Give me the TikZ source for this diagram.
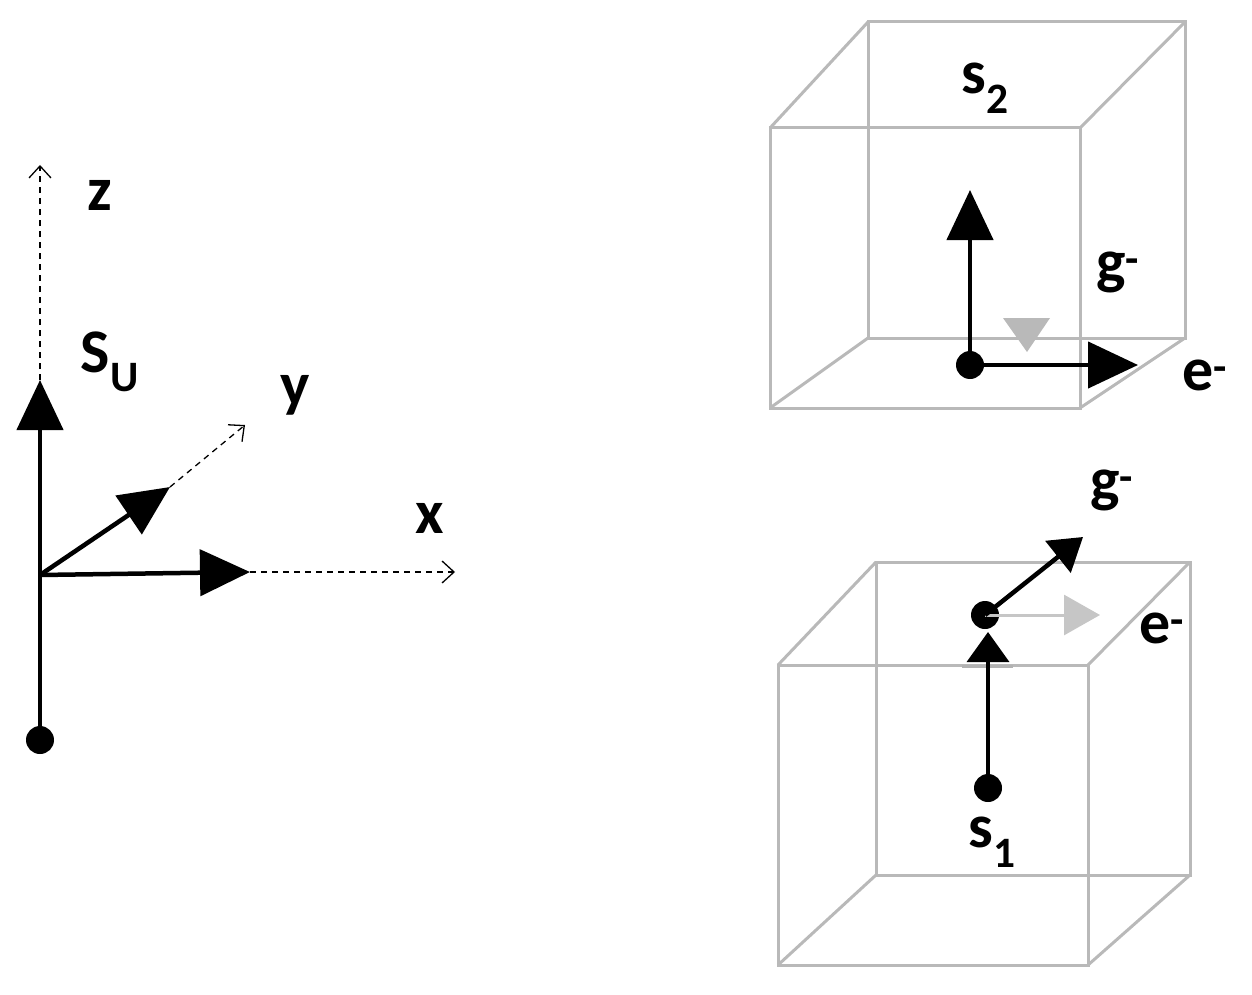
\documentclass[tikz,border=0pt]{standalone}
\usepackage{fontspec}
\setmainfont{Carlito}
\usetikzlibrary{arrows.meta}
\begin{document}
\begin{tikzpicture}[x=1pt,y=-1pt,
 big/.style={line width=4.5pt,-{Triangle[length=50pt,width=46pt]}},
 dsh/.style={line width=1.3pt,dash pattern=on 6pt off 5pt,-{Straight Barb[length=12pt,width=22pt]}},
 edge/.style={draw=gray!55,line width=3pt},
 lbl/.style={font=\fontsize{62}{62}\selectfont\bfseries,inner sep=0pt},
 dot/.style={circle,fill=black,minimum size=28pt,inner sep=0pt}]
\useasboundingbox (0,0) rectangle (1252,995);
% left axes
\node[dot] (o) at (40,740) {};
\coordinate (c) at (40,575);
\coordinate (zs) at (40,380); \coordinate (zd) at (40,165);
\coordinate (xs) at (250,572); \coordinate (xd) at (455,572);
\coordinate (ys) at (170,487); \coordinate (yd) at (245,425);
\draw[dsh] (zs) -- (zd);
\draw[dsh] (xs) -- (xd);
\draw[dsh] (ys) -- (yd);
\draw[big] (o.center) -- (zs);
\draw[big] (c) -- (xs);
\draw[big] (c) -- (ys);
\node[lbl] (lz) at (100,195) {z};
\node[lbl] (lsu) at (110,362) {S\textsubscript{U}};
\node[lbl] (ly) at (295,395) {y};
\node[lbl] (lx) at (430,518) {x};
% top cube
\draw[edge] (868,22) rectangle (1185,338);
\draw[edge] (770,128) rectangle (1080,408);
\draw[edge] (770,128)--(868,22) (1080,128)--(1185,22) (1080,408)--(1185,338) (770,408)--(868,338);
\node[dot] (d2) at (970,365) {};
\coordinate (u2) at (970,190); \coordinate (r2) at (1138,365);
\draw[fill=gray!55,draw=none] (1003,318)--(1050,318)--(1027,352)--cycle;
\draw[big] (d2.center) -- (u2);
\draw[big] (d2.center) -- (r2);
\node[lbl] (s2) at (985,88) {s\textsubscript{2}};
\node[lbl] (g2) at (1118,272) {g\textsuperscript{-}};
\node[lbl] (e2) at (1205,375) {e\textsuperscript{-}};
% bottom cube
\draw[edge] (876,562) rectangle (1190,875);
\draw[edge] (778,665) rectangle (1088,965);
\draw[edge] (778,665)--(876,562) (1088,665)--(1190,562) (1088,965)--(1190,875) (778,965)--(876,875);
\node[dot] (d1) at (988,788) {};
\node[dot] (d3) at (985,615) {};
\coordinate (u1) at (988,632);
\coordinate (g1) at (1083,537);
\coordinate (e1) at (1100,615);
\draw[line width=3pt,gray!45,-{Triangle[length=36pt,width=40pt]}] (d3.center) -- (e1);
\draw[line width=3pt,gray!60] (962,666)--(1013,666);
\draw[line width=3.5pt,-{Triangle[length=30pt,width=42pt]}] (d1.center) -- (u1);
\draw[line width=4.5pt,-{Triangle[length=32pt,width=40pt]}] (d3.center) -- (g1);
\node[lbl] (s1) at (992,842) {s\textsubscript{1}};
\node[lbl] (g1l) at (1112,490) {g\textsuperscript{-}};
\node[lbl] (e1l) at (1162,628) {e\textsuperscript{-}};
\end{tikzpicture}
\end{document}
